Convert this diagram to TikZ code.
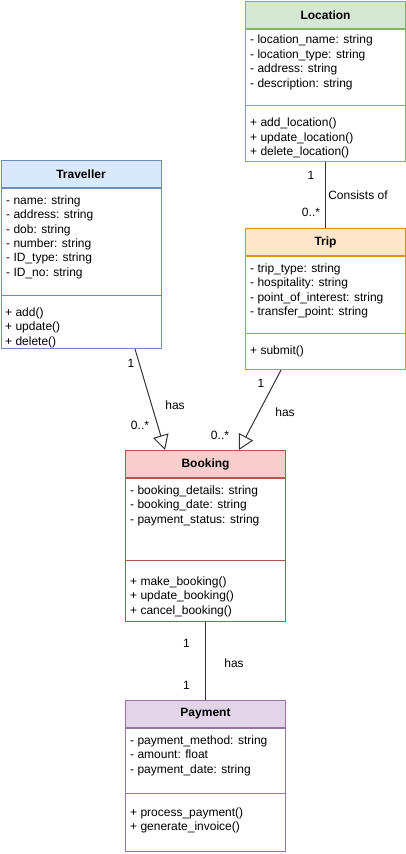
\documentclass[tikz,border=0pt]{standalone}
\usepackage{fontspec}
\setmainfont{Liberation Sans}
\usetikzlibrary{arrows.meta,calc}
\definecolor{locF}{HTML}{D5E8D4}\definecolor{locD}{HTML}{82B366}
\definecolor{travF}{HTML}{DAE8FC}\definecolor{travD}{HTML}{6C8EBF}
\definecolor{tripF}{HTML}{FFE6CC}\definecolor{tripD}{HTML}{D79B00}
\definecolor{bookF}{HTML}{F8CECC}\definecolor{bookD}{HTML}{B85450}
\definecolor{payF}{HTML}{E1D5E7}\definecolor{payD}{HTML}{9673A6}
\definecolor{lineC}{HTML}{333333}
\begin{document}
\begin{tikzpicture}[x=1pt,y=-1pt,
  hdr/.style 2 args={draw=#2, fill=#1, line width=1pt, inner sep=0pt, anchor=north west,
     minimum width=160pt, minimum height=27pt, font=\fontsize{12}{14.4}\selectfont\bfseries},
  bodybox/.style={draw=#1, fill=white, line width=1pt, inner sep=0pt, anchor=north west, minimum width=160pt},
  members/.style={align=left, inner sep=0pt, anchor=north west, font=\fontsize{12}{14.4}\selectfont},
  conn/.style={draw=lineC, line width=1pt},
  lbl/.style={inner sep=0pt, font=\fontsize{12}{14.4}\selectfont},
  inh/.style={conn, -{Triangle[open, length=15pt, width=16pt]}}
]
\useasboundingbox (0,0) rectangle (406,854);

% Location
\node[hdr={locF}{locD}] (locH) at (245,1) {Location};
\node[bodybox=locD, minimum height=132pt] (locB) at (locH.south west) {};
\draw[locD, line width=1pt] (245,105) -- (405,105);
\node[members] (locA) at (250,35) {- location\_name: string\\- location\_type: string\\- address: string\\- description: string};
\node[members] (locM) at (250,118) {+ add\_location()\\+ update\_location()\\+ delete\_location()};

% Traveller
\node[hdr={travF}{travD}] (travH) at (0.5,160) {Traveller};
\node[bodybox=travD, minimum height=187pt-27pt] (travB) at (travH.south west) {};
\draw[travD, line width=1pt] (0.5,295) -- (160.5,295);
\node[members] (travA) at (6,195.5) {- name: string\\- address: string\\- dob: string\\- number: string\\- ID\_type: string\\- ID\_no: string};
\node[members] (travM) at (5,307.5) {+ add()\\+ update()\\+ delete()};

% Trip
\node[hdr={tripF}{tripD}] (tripH) at (245,228) {Trip};
\node[bodybox=tripD, minimum height=113pt] (tripB) at (tripH.south west) {};
\draw[tripD, line width=1pt] (245,333) -- (405,333);
\node[members] (tripA) at (250,263.5) {- trip\_type: string\\- hospitality: string\\- point\_of\_interest: string\\- transfer\_point: string};
\node[members] (tripM) at (250,345.5) {+ submit()};

% Booking
\node[hdr={bookF}{bookD}] (bookH) at (125,450) {Booking};
\node[bodybox=bookD, minimum height=143pt] (bookB) at (bookH.south west) {};
\draw[bookD, line width=1pt] (125,560) -- (285,560);
\node[members] (bookA) at (130,485.5) {- booking\_details: string\\- booking\_date: string\\- payment\_status: string};
\node[members] (bookM) at (130,576.5) {+ make\_booking()\\+ update\_booking()\\+ cancel\_booking()};

% Payment
\node[hdr={payF}{payD}] (payH) at (125,700) {Payment};
\node[bodybox=payD, minimum height=123pt] (payB) at (payH.south west) {};
\draw[payD, line width=1pt] (125,793) -- (285,793);
\node[members] (payA) at (130,735.5) {- payment\_method: string\\- amount: float\\- payment\_date: string};
\node[members] (payM) at (130,807.5) {+ process\_payment()\\+ generate\_invoice()};

% Connectors
\draw[conn] ($(locB.south west)+(80,0)$) -- ($(tripH.north west)+(80,0)$);
\draw[inh] ($(travB.south west)+(134.5,0)$) -- ($(bookH.north west)+(40,0)$);
\draw[inh] ($(tripB.south west)+(36,0)$) -- ($(bookH.north west)+(114,0)$);
\draw[conn] ($(bookB.south west)+(80,0)$) -- ($(payH.north west)+(80,0)$);

% Labels
\node[lbl] (l1) at (311,175) {1};
\node[lbl] (l2) at (358,195) {Consists of};
\node[lbl] (l3) at (311,212) {0..*};
\node[lbl] (l4) at (131,363) {1};
\node[lbl] (l5) at (175,405) {has};
\node[lbl] (l6) at (140,425) {0..*};
\node[lbl] (l7) at (261,383) {1};
\node[lbl] (l8) at (285,412.5) {has};
\node[lbl] (l9) at (220,435) {0..*};
\node[lbl] (l10) at (186.5,643) {1};
\node[lbl] (l11) at (234,663) {has};
\node[lbl] (l12) at (186.5,685) {1};
\end{tikzpicture}
\end{document}
